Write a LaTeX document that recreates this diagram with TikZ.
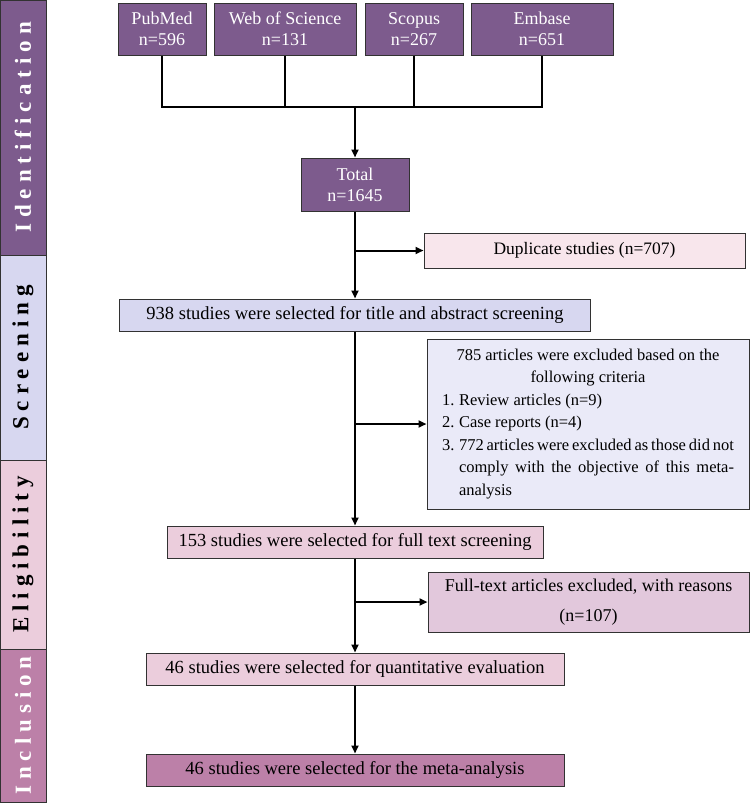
\documentclass[tikz,border=0pt]{standalone}
\usepackage{fontspec}
\setmainfont{Liberation Serif}
\usepackage{tikz}
\usetikzlibrary{arrows.meta}

\definecolor{identpurple}{RGB}{125,91,141}
\definecolor{screenlav}{RGB}{215,215,240}
\definecolor{eligpink}{RGB}{235,205,220}
\definecolor{inclmauve}{RGB}{188,128,168}
\definecolor{duppink}{RGB}{248,230,236}
\definecolor{excllav}{RGB}{234,234,248}
\definecolor{ftpink}{RGB}{226,200,220}
\definecolor{boxline}{RGB}{50,50,50}

\begin{document}
\begin{tikzpicture}[x=1pt,y=-1pt,font=\fontsize{18}{21}\selectfont]

%
% Styles
%
\tikzstyle{band}   = [draw=boxline,line width=1pt,minimum width=46pt,inner sep=0pt]
\tikzstyle{bandtxt}= [rotate=90,font=\fontsize{23}{25}\selectfont\bfseries\addfontfeature{LetterSpace=26}]
\tikzstyle{source} = [draw=boxline,line width=1pt,fill=identpurple,text=white,minimum height=52pt,align=center,inner sep=2pt]
\tikzstyle{stage}  = [draw=boxline,line width=1pt,minimum height=32pt,inner sep=2pt,font=\fontsize{18.5}{22}\selectfont]
\tikzstyle{side}   = [draw=boxline,line width=1pt,inner sep=2pt]

\tikzstyle{line}   = [line width=2pt]
\tikzstyle{edge}   = [-{Triangle[length=8pt,width=7pt]},line width=2pt]

\useasboundingbox (0,0) rectangle (750,803);

% side bands
\node[band,fill=identpurple,minimum height=255pt] (ident) at (23,127.5) {};
\node[band,fill=screenlav,minimum height=205pt]   (scr)   at (23,357.5) {};
\node[band,fill=eligpink,minimum height=189pt]    (elig)  at (23,554.5) {};
\node[band,fill=inclmauve,minimum height=153pt]   (incl)  at (23,725.5) {};
\node[bandtxt,text=white] at (ident) {Identification};
\node[bandtxt]            at (scr)   {Screening};
\node[bandtxt]            at (elig)  {Eligibility};
\node[bandtxt,text=white] at (incl)  {Inclusion};

% databases
\node[source,minimum width=88pt]  (pubmed) at (162,29) {PubMed\\n=596};
\node[source,minimum width=142pt] (wos)    at (285,29) {Web of Science\\n=131};
\node[source,minimum width=98pt]  (scopus) at (414,29) {Scopus\\n=267};
\node[source,minimum width=142pt] (embase) at (542,29) {Embase\\n=651};
\coordinate (join) at (355,107);

\node[source,minimum width=108pt,minimum height=53pt] (total) at (355,184.5) {Total\\n=1645};

% stages
\node[stage,fill=screenlav,minimum width=471pt] (screen) at (355,315) {938 studies were selected for title and abstract screening};
\node[stage,fill=eligpink,minimum width=376pt]  (full)   at (355,542) {153 studies were selected for full text screening};
\node[stage,fill=eligpink,minimum width=418pt]  (quant)  at (355,669) {46 studies were selected for quantitative evaluation};
\node[stage,fill=inclmauve,minimum width=418pt] (meta)   at (355,770) {46 studies were selected for the meta-analysis};

% exclusions
\node[side,fill=duppink,minimum width=321pt,minimum height=35pt,font=\fontsize{17.5}{21}\selectfont] (dup) at (584.5,250.5) {Duplicate studies (n=707)};
\node[side,fill=excllav,minimum width=322pt,minimum height=170pt,text width=292pt,align=justify,font=\fontsize{16.5}{22.5}\selectfont] (excl) at (588,424)
  {\centering 785 articles were excluded based on the\\ following criteria\par
   \raggedright
   \hangindent=17pt\hangafter=1\noindent\makebox[17pt][l]{1.}Review articles (n=9)\par
   \hangindent=17pt\hangafter=1\noindent\makebox[17pt][l]{2.}Case reports (n=4)\par
   \leftskip=0pt\rightskip=0pt\parfillskip=0pt plus 1fil
   \hangindent=17pt\hangafter=1\noindent\makebox[17pt][l]{3.}772 articles were excluded as those did not comply with the objective of this meta-analysis\par};
\node[side,fill=ftpink,minimum width=321pt,minimum height=60pt,align=center,font=\fontsize{18}{30}\selectfont] (ftexcl) at (588.5,602) {Full-text articles excluded, with reasons\\(n=107)};

% connectors
\draw[line] (pubmed.south) -- (pubmed.south |- join) -- (embase.south |- join) -- (embase.south);
\draw[line] (wos.south) -- (wos.south |- join);
\draw[line] (scopus.south) -- (scopus.south |- join);
\draw[edge] (join) -- (total);

\draw[edge] (total) -- (screen);
\draw[edge] (total.south |- dup) -- (dup.west);
\draw[edge] (screen) -- (full);
\draw[edge] (screen.south |- excl) -- (excl.west);
\draw[edge] (full) -- (quant);
\draw[edge] (full.south |- ftexcl) -- (ftexcl.west);
\draw[edge] (quant) -- (meta);

\end{tikzpicture}
\end{document}
